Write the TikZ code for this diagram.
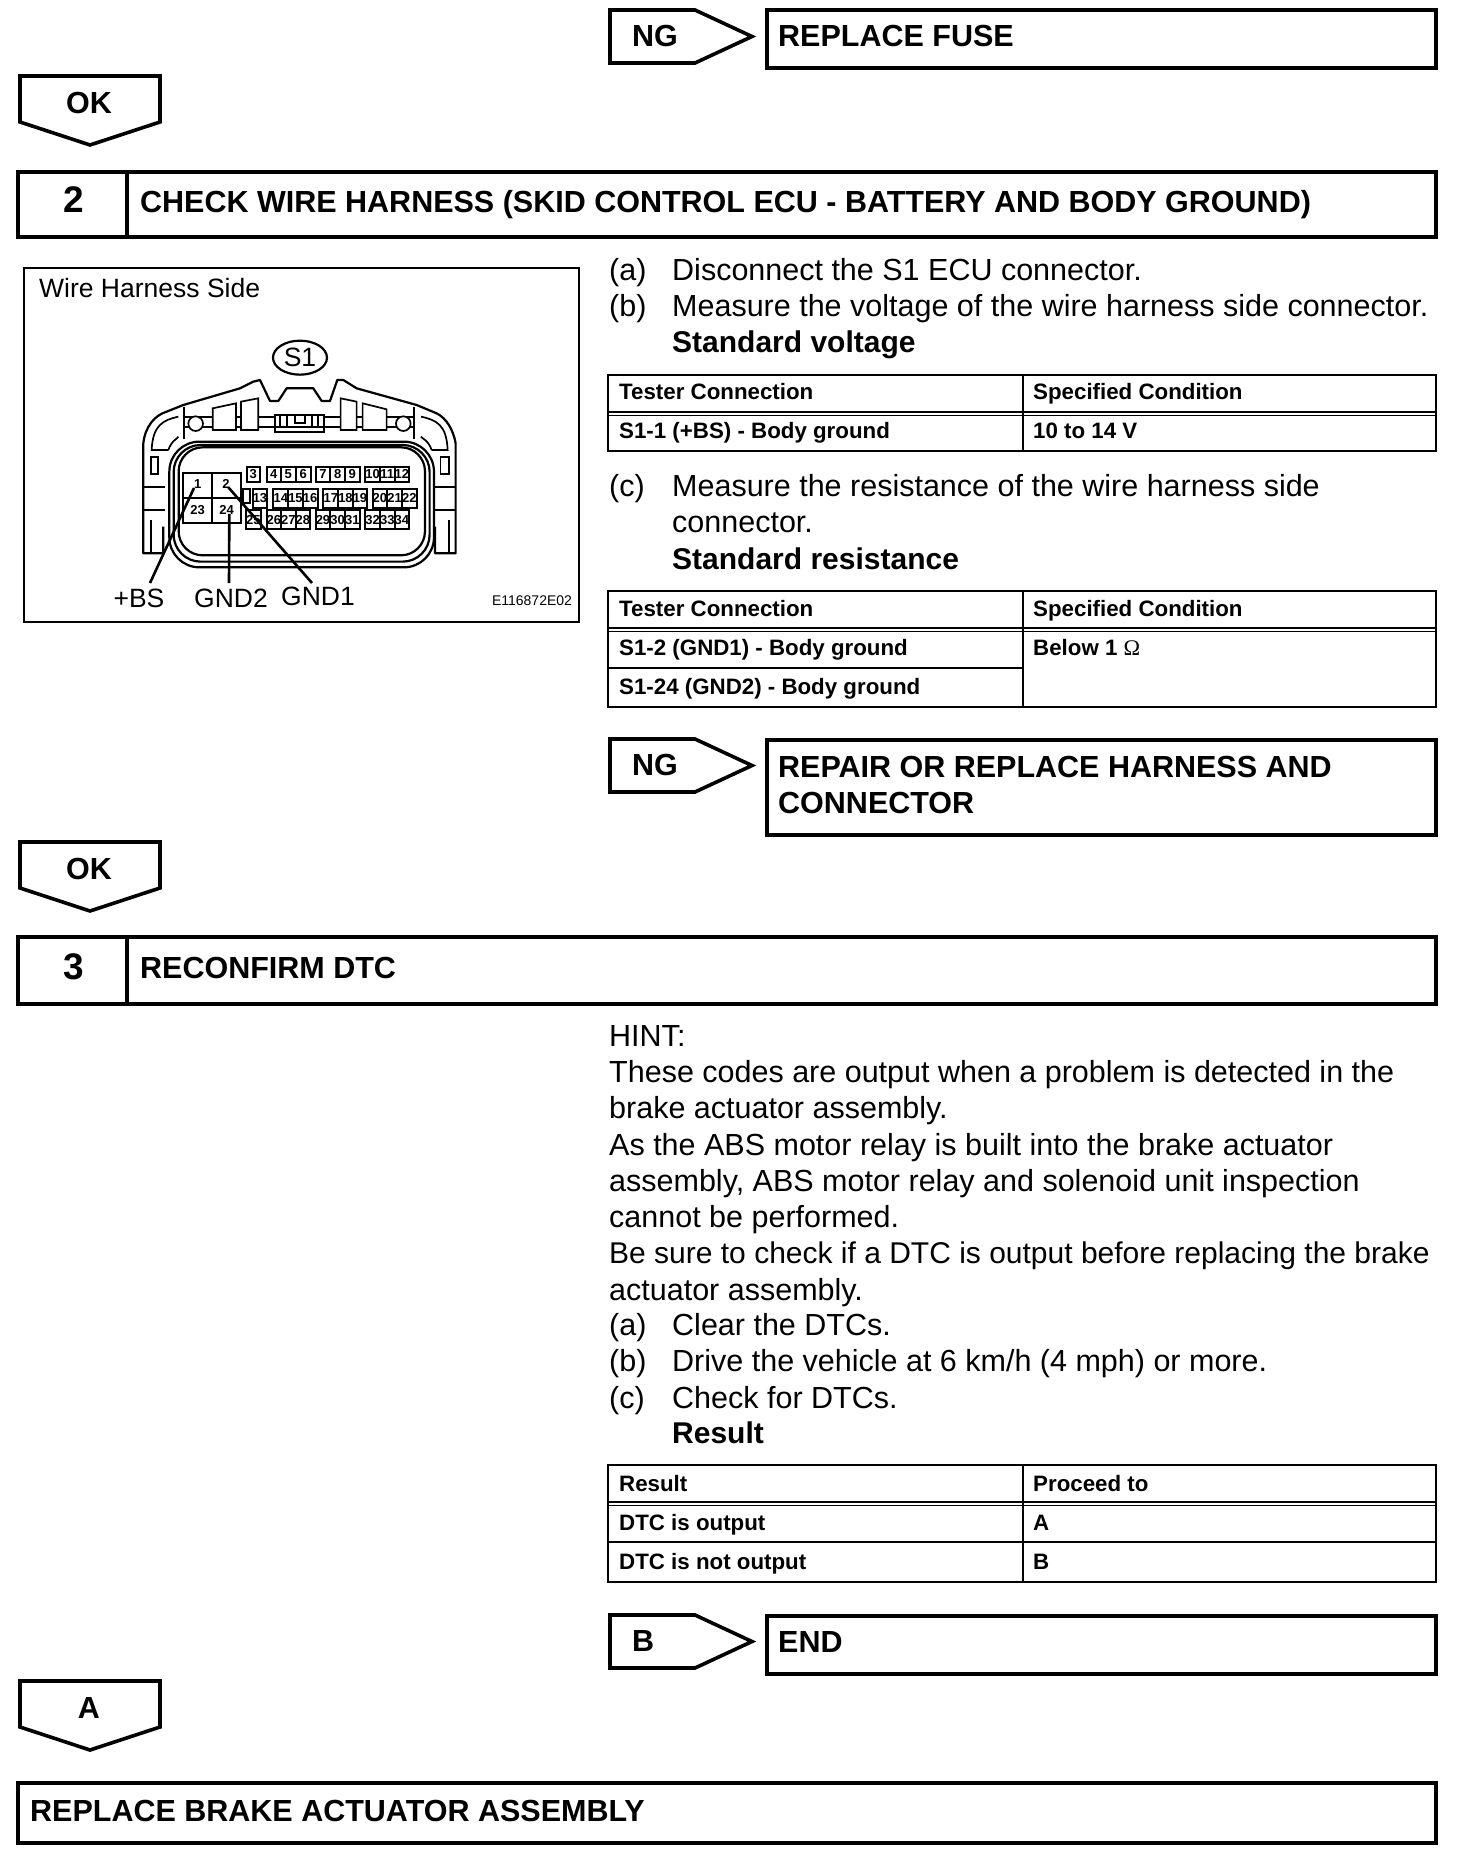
\documentclass[tikz,border=0pt]{standalone}
\usepackage{fontspec}
\setmainfont{Liberation Sans}
\newfontfamily\serifomega{Liberation Serif}
\usetikzlibrary{positioning,calc,shapes.geometric}
\tikzset{
  frameline/.style={draw,line width=3.6pt,minimum height=0pt,anchor=north west,inner sep=0pt,outer sep=0pt},
  tagline/.style={line width=3.6pt,miter limit=10},
  rule/.style={line width=1.8pt},
  bodytxt/.style={anchor=base west,inner sep=0pt,yshift=1pt,font=\fontsize{30.5}{34}\selectfont},
  boldtxt/.style={anchor=base west,inner sep=0pt,yshift=1pt,font=\fontsize{30}{34}\selectfont\bfseries},
  headtxt/.style={anchor=base west,inner sep=0pt,yshift=1pt,font=\fontsize{30.5}{36}\selectfont\bfseries},
  tabletxt/.style={anchor=base west,inner sep=0pt,yshift=1pt,font=\fontsize{22.3}{26}\selectfont\bfseries},
  tagtxt/.style={anchor=base west,inner sep=0pt,yshift=1pt,font=\fontsize{30.5}{32}\selectfont\bfseries},
  numtxt/.style={anchor=base,inner sep=0pt,yshift=1pt,font=\fontsize{37}{40}\selectfont\bfseries},
  calltxt/.style={anchor=base,inner sep=0pt,font=\fontsize{26.5}{30}\selectfont},
  pintxt/.style={inner sep=0pt,font=\fontsize{13}{14}\selectfont\bfseries},
  shellline/.style={line width=2.2pt,line join=round},
  partline/.style={line width=1.7pt},
  pincell/.style={line width=2.2pt},
  leaderline/.style={line width=2.6pt}
}
\newcommand{\sidetag}[3]{%
  \draw[tagline] (610,#1)--(695,#1)--(752,#1+26.5)--(695,#1+53)--(610,#1+53)--cycle;
  \node[tagtxt] (#2) at (632,#1+37.5) {#3};}
\newcommand{\downtag}[3]{%
  \draw[tagline] (20,#1)--(160,#1)--(160,#1+46)--(90,#1+69)--(20,#1+46)--cycle;
  \node[tagtxt,anchor=base] (#2) at (89,#1+38) {#3};}
\newcommand{\resultgrid}[2]{%
  \draw[rule] (608,#1) rectangle (1436,#1+#2);
  \draw[rule] (608,#1+37)--(1436,#1+37);
  \draw[rule] (608,#1+40.5)--(1436,#1+40.5);
  \draw[rule] (1023,#1)--(1023,#1+#2);}
\begin{document}
\begin{tikzpicture}[x=1pt,y=-1pt]
\useasboundingbox (0,0) rectangle (1456,1860);
\sidetag{10}{tagfuse}{NG}
\node[frameline,minimum width=669pt,minimum height=58pt] (boxfuse) at (767,10) {};
\node[headtxt] (txtfuse) at (778,48) {REPLACE FUSE};
\downtag{76}{tagoka}{OK}
\node[frameline,minimum width=1418pt,minimum height=65pt] (bartwo) at (18,172) {};
\draw[tagline] (127,172)--(127,237);
\node[numtxt] (numtwo) at (74,213) {2};
\node[headtxt] (txttwo) at (140,213) {CHECK WIRE HARNESS (SKID CONTROL ECU - BATTERY AND BODY GROUND)};
\node[draw,line width=2.4pt,minimum width=555pt,minimum height=354pt,anchor=north west,inner sep=0pt,outer sep=0pt] (figbox) at (24,268) {};
\node[anchor=base west,inner sep=0pt,font=\fontsize{26.5}{30}\selectfont] (figtitle) at (39,297) {Wire Harness Side};
\begin{scope}[shift={(130,330)},x=0.3333pt,y=-0.3333pt]
\node[draw,ellipse,line width=2.2pt,minimum width=54pt,minimum height=34pt,inner sep=0pt,font=\fontsize{26.5}{30}\selectfont] (sone) at (510,83) {S1};
\draw[shellline] (100,590)--(100,670)--(40,670)--(40,340) .. controls (45,290) and (75,255) .. (110,245)--(160,225)--(330,175)--(370,155)--(390,150)--(420,213)--(445,213)--(470,175)--(550,175)--(575,213)--(600,213)--(622,150)--(640,150)--(680,175)--(860,225)--(920,250) .. controls (950,265) and (970,300) .. (977,340)--(977,670)--(915,670)--(915,590);
\draw[shellline,rounded corners=30pt] (118,500)--(118,335)--(912,335)--(912,712)--(118,712)--(118,500);
\draw[shellline,rounded corners=27pt] (131,500)--(131,345)--(899,345)--(899,695)--(131,695)--(131,500);
\draw[shellline,rounded corners=24pt] (146,500)--(146,352)--(885,352)--(885,676)--(146,676)--(146,500);
\draw[partline] (163,230)--(163,328) (853,230)--(853,328);
\draw[partline] (163,262)--(248,262) (163,292)--(248,292) (318,262)--(333,262) (318,292)--(333,292);
\draw[partline] (385,262)--(632,262) (385,292)--(632,292) (680,262)--(698,262) (680,292)--(698,292) (770,262)--(853,262) (770,292)--(853,292);
\draw[partline,fill=white] (197,281) circle (22);
\draw[partline,fill=white] (820,281) circle (22);
\draw[partline,fill=white] (248,235)--(318,220)--(318,300)--(248,300)--cycle;
\draw[partline,fill=white] (333,215)--(385,205)--(385,300)--(333,300)--cycle;
\draw[partline,fill=white] (632,205)--(680,215)--(680,300)--(632,300)--cycle;
\draw[partline,fill=white] (698,220)--(770,238)--(770,300)--(698,300)--cycle;
\draw[partline,fill=white] (435,255) rectangle (583,305);
\draw[partline] (450,255)--(450,292) (472,255)--(472,292) (545,255)--(545,292) (565,255)--(565,292) (435,292)--(583,292);
\draw[partline] (495,258)--(495,280)--(525,280)--(525,258);
\draw[partline] (145,260) .. controls (100,270) and (68,285) .. (65,360)--(115,360) (115,360) .. controls (125,330) and (145,325) .. (145,320);
\draw[partline] (873,260) .. controls (920,270) and (950,285) .. (953,360)--(905,360) (905,360) .. controls (895,330) and (875,325) .. (873,320);
\draw[partline] (62,380) rectangle (85,432);
\draw[partline] (932,380) rectangle (958,432);
\draw[partline] (40,470)--(105,470) (40,540)--(105,540) (915,470)--(977,470) (915,540)--(977,540);
\draw[partline] (62,570)--(62,670) (958,570)--(958,670);
\draw[partline] (158,428) rectangle (332,578);
\draw[partline] (245,428)--(245,578) (158,503)--(332,503);
\draw[partline] (340,476) rectangle (360,520);
\foreach \xa/\xb/\pin in {350/390/3,410/453/4,453/497/5,497/542/6,557/601/7,601/645/8,645/689/9,706/750/10,750/794/11,794/838/12}{
  \draw[pincell] (\xa,410) rectangle (\xb,455);
  \node[pintxt] (pin\pin) at ({0.5*(\xa+\xb)},433) {\pin};
}
\foreach \xa/\xb/\pin in {368/412/13,430/475/14,475/518/15,518/563/16,580/625/17,625/668/18,668/712/19,728/772/20,772/816/21,816/860/22}{
  \draw[pincell] (\xa,476) rectangle (\xb,533);
  \node[pintxt] (pin\pin) at ({0.5*(\xa+\xb)},505) {\pin};
}
\foreach \xa/\xb/\pin in {348/392/25,410/453/26,453/497/27,497/540/28,557/601/29,601/645/30,645/689/31,706/750/32,750/794/33,794/838/34}{
  \draw[pincell] (\xa,540) rectangle (\xb,597);
  \node[pintxt] (pin\pin) at ({0.5*(\xa+\xb)},570) {\pin};
}
\node[pintxt] (pin1) at (203,463) {1};
\node[pintxt] (pin2) at (288,461) {2};
\node[pintxt] (pin23) at (203,541) {23};
\node[pintxt] (pin24) at (290,541) {24};
\coordinate (endbs) at (192,474);
\coordinate (endgndtwo) at (298,552);
\coordinate (endgndone) at (295,472);
\end{scope}
\node[calltxt] (lblbs) at (139,607) {+BS};
\node[calltxt] (lblgndtwo) at (231,607) {GND2};
\node[calltxt] (lblgndone) at (318,605) {GND1};
\node[anchor=base,inner sep=0pt,font=\fontsize{14}{16}\selectfont] (figcode) at (532,605) {E116872E02};
\coordinate (topbs) at (150,583);
\coordinate (topgndtwo) at (229,583);
\coordinate (topgndone) at (312,583);
\draw[leaderline] (topbs)--(endbs);
\draw[leaderline] (topgndtwo)--(endgndtwo);
\draw[leaderline] (topgndone)--(endgndone);
\node[bodytxt] (stepa) at (609,281) {(a)};
\node[bodytxt] (stepatxt) at (672,281) {Disconnect the S1 ECU connector.};
\node[bodytxt] (stepb) at (609,317) {(b)};
\node[bodytxt] (stepbtxt) at (672,317) {Measure the voltage of the wire harness side connector.};
\node[boldtxt] (stdvolt) at (672,353) {Standard voltage};
\resultgrid{375}{76}
\node[tabletxt] (voltheada) at (619,400) {Tester Connection};
\node[tabletxt] (voltheadb) at (1033,400) {Specified Condition};
\node[tabletxt] (voltrowa) at (619,439) {S1-1 (+BS) - Body ground};
\node[tabletxt] (voltrowb) at (1033,439) {10 to 14 V};
\node[bodytxt] (stepc) at (609,497) {(c)};
\node[bodytxt] (stepctxt) at (672,497) {Measure the resistance of the wire harness side};
\node[bodytxt] (stepcmore) at (672,533) {connector.};
\node[boldtxt] (stdres) at (672,570) {Standard resistance};
\resultgrid{591}{116}
\node[tabletxt] (resheada) at (619,617) {Tester Connection};
\node[tabletxt] (resheadb) at (1033,617) {Specified Condition};
\node[tabletxt] (resrowa) at (619,656) {S1-2 (GND1) - Body ground};
\node[tabletxt] (resrowb) at (619,695) {S1-24 (GND2) - Body ground};
\node[tabletxt] (resval) at (1033,656) {Below 1 {\mdseries\serifomega Ω}};
\draw[rule] (608,668)--(1023,668);
\sidetag{739}{tagharness}{NG}
\node[frameline,minimum width=669pt,minimum height=95pt] (boxharness) at (767,740) {};
\node[headtxt] (txtharness) at (778,778) {REPAIR OR REPLACE HARNESS AND};
\node[headtxt] (txtharnessb) at (778,814) {CONNECTOR};
\downtag{842}{tagokb}{OK}
\node[frameline,minimum width=1418pt,minimum height=67pt] (barthree) at (18,937) {};
\draw[tagline] (127,937)--(127,1004);
\node[numtxt] (numthree) at (74,980) {3};
\node[headtxt] (txtthree) at (140,979) {RECONFIRM DTC};
\node[bodytxt] (hint) at (609,1047) {HINT:};
\node[bodytxt] (hinta) at (609,1083) {These codes are output when a problem is detected in the};
\node[bodytxt] (hintb) at (609,1119) {brake actuator assembly.};
\node[bodytxt] (hintc) at (609,1156) {As the ABS motor relay is built into the brake actuator};
\node[bodytxt] (hintd) at (609,1192) {assembly, ABS motor relay and solenoid unit inspection};
\node[bodytxt] (hinte) at (609,1228) {cannot be performed.};
\node[bodytxt,font=\fontsize{30}{34}\selectfont] (hintf) at (609,1264) {Be sure to check if a DTC is output before replacing the brake};
\node[bodytxt] (hintg) at (609,1301) {actuator assembly.};
\node[bodytxt] (clra) at (609,1336) {(a)};
\node[bodytxt] (clratxt) at (672,1336) {Clear the DTCs.};
\node[bodytxt] (clrb) at (609,1372) {(b)};
\node[bodytxt] (clrbtxt) at (672,1372) {Drive the vehicle at 6 km/h (4 mph) or more.};
\node[bodytxt] (clrc) at (609,1409) {(c)};
\node[bodytxt] (clrctxt) at (672,1409) {Check for DTCs.};
\node[boldtxt] (resulthead) at (672,1444) {Result};
\resultgrid{1465}{117}
\node[tabletxt] (dtcheada) at (619,1492) {Result};
\node[tabletxt] (dtcheadb) at (1033,1492) {Proceed to};
\node[tabletxt] (dtcrowa) at (619,1531) {DTC is output};
\node[tabletxt] (dtcvala) at (1033,1531) {A};
\node[tabletxt] (dtcrowb) at (619,1570) {DTC is not output};
\node[tabletxt] (dtcvalb) at (1033,1570) {B};
\draw[rule] (608,1542)--(1436,1542);
\sidetag{1615}{tagend}{B}
\node[frameline,minimum width=669pt,minimum height=58pt] (boxend) at (767,1616) {};
\node[headtxt] (txtend) at (778,1653) {END};
\downtag{1681}{tagdtc}{A}
\node[frameline,minimum width=1418pt,minimum height=60pt] (barlast) at (18,1783) {};
\node[headtxt] (txtlast) at (30,1822) {REPLACE BRAKE ACTUATOR ASSEMBLY};
\end{tikzpicture}
\end{document}
